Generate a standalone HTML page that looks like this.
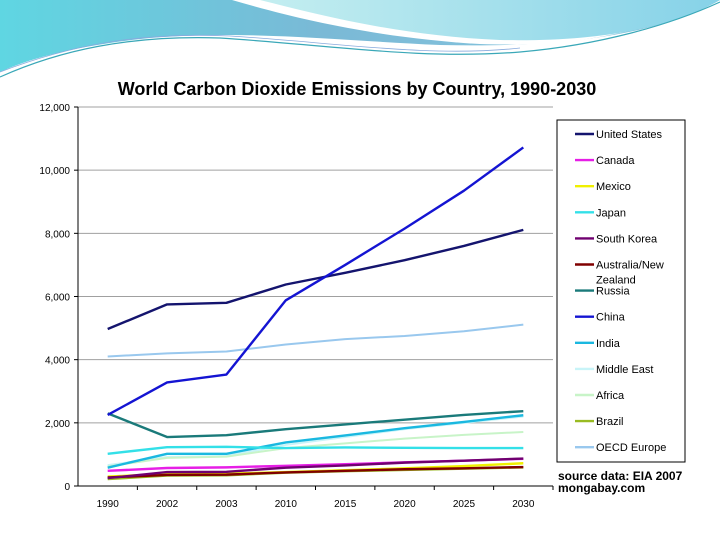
<!DOCTYPE html>
<html><head><meta charset="utf-8"><style>
html,body{margin:0;padding:0;width:720px;height:540px;overflow:hidden;background:#fff;font-family:"Liberation Sans",sans-serif}
</style></head><body>
<svg width="720" height="540" viewBox="0 0 720 540" xmlns="http://www.w3.org/2000/svg">
<defs>
<linearGradient id="g1" x1="0" y1="0" x2="1" y2="0"><stop offset="0" stop-color="#5fd6e2"/><stop offset="0.45" stop-color="#7ab9d6"/><stop offset="1" stop-color="#8ccbe2"/></linearGradient>
<linearGradient id="g2" x1="0" y1="0" x2="1" y2="0"><stop offset="0" stop-color="#c4eef0"/><stop offset="1" stop-color="#86d2e8"/></linearGradient>
</defs>
<g>
<path d="M0,0 H720 V0 C660,35 560,48 440,45 C330,40 250,30 150,38 C80,45 30,58 0,72 Z" fill="url(#g1)"/>
<path d="M232,0 C300,20 380,38 480,44 C580,48 650,30 720,0 Z" fill="#fff"/>
<path d="M260,0 H720 C670,28 600,42 500,40 C400,36 320,15 260,0 Z" fill="url(#g2)"/>
<path d="M0,77 C60,50 130,35 220,38 C330,45 420,60 520,52 C600,45 670,25 720,2" fill="none" stroke="#3aa8b8" stroke-width="1.2"/>
<path d="M0,72 C70,45 140,32 230,36 C330,42 430,58 520,48" fill="none" stroke="#8ad" stroke-width="0.8"/>
</g>
<rect x="22" y="72" width="668" height="440" fill="#fff"/>
<text x="357" y="95" text-anchor="middle" font-size="18" font-weight="bold" fill="#000">World Carbon Dioxide Emissions by Country, 1990-2030</text>
<g id="grid"></g>
<g id="axes"></g>
<g id="series"></g>
<rect x="557" y="120" width="128" height="342" fill="#fff" stroke="#000" stroke-width="1"/>
<g id="legend"></g>
<text x="558" y="480" font-size="12" font-weight="bold" fill="#000">source data: EIA 2007</text>
<text x="558" y="492" font-size="12" font-weight="bold" fill="#000">mongabay.com</text>
</svg>
<script>
const categories=["1990","2002","2003","2010","2015","2020","2025","2030"];
const yTicks=[0,2000,4000,6000,8000,10000,12000];
const seriesNames=["United States","Canada","Mexico","Japan","South Korea","Australia/New Zealand","Russia","China","India","Middle East","Africa","Brazil","OECD Europe"];
const seriesColors=["#14146e","#e61ee6","#f0f000","#33e0e8","#700070","#800000","#1a7a7a","#1414d2","#1ab8e0","#c8f4f8","#c8f4c8","#99bb22","#99c8ee"];
const usVals=[4970,5750,5800,6380,6750,7150,7600,8110];
const canadaVals=[480,570,590,640,690,750,800,860];
const mexicoVals=[300,380,390,440,500,560,630,720];
const japanVals=[1020,1230,1240,1200,1220,1210,1200,1200];
const koreaVals=[250,440,450,580,650,740,800,870];
const ausVals=[270,350,360,430,480,530,560,600];
const russiaVals=[2300,1550,1610,1800,1950,2100,2250,2370];
const chinaVals=[2250,3280,3530,5880,7000,8150,9350,10720];
const indiaVals=[580,1020,1020,1380,1600,1830,2030,2240];
const meVals=[660,920,950,1300,1550,1800,2000,2200];
const africaVals=[620,890,930,1200,1350,1500,1620,1710];
const brazilVals=[220,330,340,420,470,510,550,590];
const oecdVals=[4100,4200,4260,4480,4650,4750,4900,5110];
const allVals=[usVals,canadaVals,mexicoVals,japanVals,koreaVals,ausVals,russiaVals,chinaVals,indiaVals,meVals,africaVals,brazilVals,oecdVals];
const drawOrder=[12,9,10,8,3,1,2,11,5,4,6,0,7];
const X0=78,X1=553,Y0=486,Y1=107,YMAX=12000;
const step=(X1-X0)/categories.length;
function xPos(i){return X0+step*(i+0.5);}
function yPos(v){return Y0-(v/YMAX)*(Y0-Y1);}
const NS="http://www.w3.org/2000/svg";
function mk(tag,attrs,parent){const e=document.createElementNS(NS,tag);for(const k in attrs)e.setAttribute(k,attrs[k]);parent.appendChild(e);return e;}
const grid=document.getElementById('grid'),axes=document.getElementById('axes'),series=document.getElementById('series'),legend=document.getElementById('legend');
yTicks.forEach(t=>{
  const y=yPos(t);
  if(t>0){const g=mk('line',{x1:X0,x2:X1,y1:y,y2:y,stroke:'#a0a0a0','stroke-width':1},grid);
  
  }
  const tk=mk('line',{x1:X0-4,x2:X0,y1:y,y2:y,stroke:'#000'},axes);
  
  
  const tx=mk('text',{x:X0-8,y:y+4,'text-anchor':'end','font-size':10,fill:'#000'},axes);
  tx.textContent=t.toLocaleString('en-US');
  
  
});
const ya=mk('line',{x1:X0,x2:X0,y1:Y1,y2:Y0,stroke:'#000'},axes);


const xa=mk('line',{x1:X0,x2:X1,y1:Y0,y2:Y0,stroke:'#000'},axes);


categories.forEach((c,i)=>{
  const bx=X0+step*(i+1);
  const tk=mk('line',{x1:bx,x2:bx,y1:Y0,y2:Y0+4,stroke:'#000'},axes);
  
  
  const tx=mk('text',{x:xPos(i),y:Y0+21,'text-anchor':'middle','font-size':10,fill:'#000'},axes);
  tx.textContent=c;
  
  
});
drawOrder.forEach(s=>{
  const pts=allVals[s].map((v,i)=>xPos(i)+','+yPos(v)).join(' ');
  const thin=(s===9||s===10||s===12);
  const pl=mk('polyline',{points:pts,fill:'none',stroke:seriesColors[s],'stroke-width':thin?2:2.4,'stroke-linejoin':'round'},series);
  
  
});
seriesNames.forEach((n,i)=>{
  const y=134+i*26.1;
  const l=mk('line',{x1:575,x2:594,y1:y,y2:y,stroke:seriesColors[i],'stroke-width':2.4},legend);
  
  
  const t=mk('text',{x:596,y:y+4,'font-size':11,fill:'#000'},legend);
  if(n==="Australia/New Zealand"){t.textContent="Australia/New";const t2=mk('text',{x:596,y:y+19,'font-size':11,fill:'#000'},legend);t2.textContent="Zealand";
  
  }
  else t.textContent=n;
  
  
});
</script>
</body></html>
